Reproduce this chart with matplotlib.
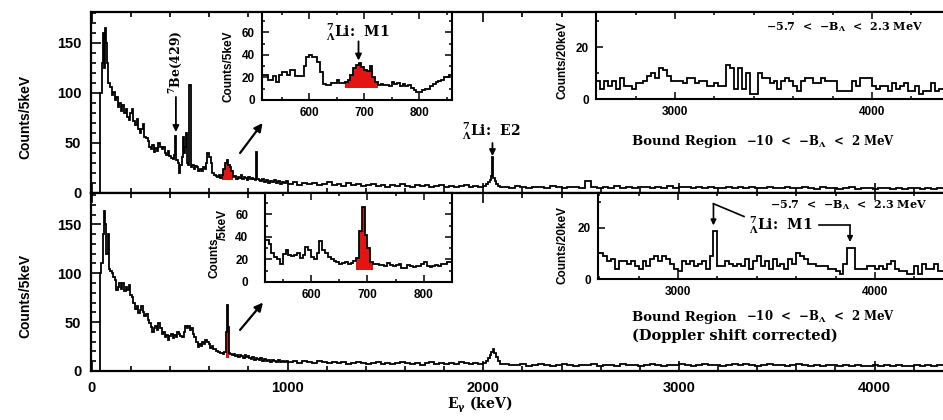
import numpy as np
import matplotlib
matplotlib.use("Agg")
import matplotlib.pyplot as plt
from matplotlib.ticker import MultipleLocator

# ---------------- data ----------------
# main spectra, low-energy part (bin left edges in keV, counts per 5 keV)
top_low_E = [35, 40, 50, 58, 62, 66, 72, 78, 84, 92, 100, 108, 116, 124, 132, 140, 148, 156, 164, 172,
             180, 188, 196, 204, 212, 220, 228, 236, 244, 252, 260, 268, 276, 284, 292, 300, 308, 316,
             324, 332, 340, 348, 356, 364, 372, 380, 388, 396, 404, 412, 420, 425, 432, 440, 444, 450,
             460, 465, 470, 476, 482, 486, 490, 498, 504, 512, 520, 528, 536, 544, 552, 560, 568, 576,
             584, 590, 600, 608, 616, 624, 632, 640, 648, 656, 664, 672, 680, 688, 696, 704, 712, 720,
             728, 736, 744, 752, 760, 768, 776, 784, 792, 800, 808, 816, 824, 832, 840, 846, 852, 860,
             870, 880, 890, 900, 910, 920, 930, 940, 950, 960, 970, 980, 990]
top_low_cts = [0, 100, 130, 160, 125, 165, 150, 130, 110, 106, 98, 101, 93, 96, 86, 90, 82, 88, 80, 84,
               76, 73, 80, 84, 72, 68, 74, 64, 60, 64, 69, 56, 55, 52, 46, 44, 48, 41, 45, 42, 50, 46,
               44, 46, 40, 38, 42, 37, 35, 34, 38, 57, 33, 30, 20, 28, 36, 56, 40, 46, 60, 30, 28, 108,
               26, 28, 24, 27, 26, 22, 24, 22, 26, 24, 30, 40, 36, 30, 20, 18, 17, 16, 18, 15, 18, 24,
               30, 33, 28, 26, 22, 16, 17, 14, 16, 15, 18, 14, 16, 15, 13, 16, 14, 15, 14, 13, 41, 14,
               13, 12, 14, 11, 13, 10, 12, 11, 13, 10, 12, 9, 11, 10, 12]
bot_low_E = [35, 40, 48, 56, 62, 68, 74, 80, 86, 94, 100, 108, 116, 124, 132, 140, 148, 156, 164, 172,
             180, 188, 196, 204, 212, 220, 228, 236, 244, 252, 260, 268, 276, 284, 292, 300, 308, 316,
             324, 332, 340, 348, 356, 364, 372, 380, 388, 396, 404, 412, 420, 428, 436, 444, 452, 460,
             468, 476, 484, 492, 500, 508, 516, 524, 532, 540, 548, 556, 564, 572, 580, 588, 596, 604,
             612, 620, 628, 636, 644, 652, 660, 668, 676, 684, 688, 694, 700, 708, 716, 724, 732, 740,
             748, 756, 764, 772, 780, 788, 796, 804, 812, 820, 828, 836, 844, 852, 860, 870, 880, 890,
             900, 910, 920, 930, 940, 950, 960, 970, 980, 990]
bot_low_cts = [0, 100, 110, 140, 164, 150, 120, 140, 104, 102, 100, 96, 93, 83, 86, 90, 84, 90, 82, 86,
               83, 88, 78, 76, 70, 63, 66, 59, 62, 66, 60, 56, 58, 52, 49, 45, 40, 44, 46, 42, 49, 44,
               38, 40, 35, 37, 32, 36, 38, 34, 37, 35, 40, 38, 36, 35, 40, 46, 44, 46, 42, 44, 38, 35,
               30, 25, 28, 26, 30, 28, 32, 30, 28, 24, 26, 22, 22, 20, 19, 18, 18, 17, 19, 40, 67, 45,
               18, 17, 16, 17, 15, 16, 14, 16, 15, 13, 16, 14, 15, 13, 12, 14, 11, 13, 12, 11, 13, 10,
               12, 10, 11, 9, 11, 10, 9, 11, 9, 10, 9, 10]
# 1000-2000 keV, 25 keV steps
top_mid_cts = [9, 11, 8, 10, 9, 10, 8, 9, 11, 8, 9, 7, 10, 8, 9, 7, 8, 9, 7, 8,
               6, 8, 7, 9, 7, 6, 8, 7, 8, 6, 7, 8, 6, 7, 6, 7, 8, 6, 7, 6]
bot_mid_cts = [9, 10, 8, 10, 9, 8, 10, 9, 8, 9, 8, 9, 7, 8, 9, 8, 7, 8, 9, 7,
               8, 7, 8, 9, 8, 7, 8, 6, 8, 9, 7, 8, 7, 8, 7, 9, 8, 7, 8, 7]
# E2 line region
top_e2_E = [2000, 2015, 2025, 2035, 2042, 2046, 2052, 2058, 2066, 2076, 2088]
top_e2_cts = [7, 9, 11, 13, 17, 36, 15, 12, 9, 7, 6]
bot_e2_E = [2000, 2012, 2022, 2032, 2040, 2048, 2056, 2064, 2074, 2086]
bot_e2_cts = [8, 10, 13, 16, 19, 22, 18, 14, 10, 7]
# 2100-4350 keV, 30 keV steps
top_high_cts = [6, 5, 7, 6, 5, 6, 6, 5, 7, 6, 5, 6, 6, 5, 12, 6, 5, 6, 5, 7, 5, 6, 5, 6, 6,
                5, 6, 5, 7, 5, 6, 6, 5, 6, 5, 6, 5, 5, 6, 5, 6, 5, 6, 5, 5, 6, 5, 5, 6, 5,
                5, 6, 5, 4, 6, 5, 5, 4, 5, 6, 4, 5, 5, 4, 5, 5, 4, 5, 4, 5, 5, 4, 5, 4, 5]
bot_high_cts = [7, 6, 6, 7, 5, 6, 7, 6, 5, 6, 7, 6, 5, 6, 6, 7, 5, 6, 6, 5, 7, 6, 6, 5, 6,
                7, 6, 5, 6, 6, 7, 6, 5, 6, 7, 6, 6, 5, 6, 7, 6, 7, 6, 5, 6, 7, 6, 6, 5, 6,
                7, 6, 5, 6, 5, 6, 6, 5, 6, 5, 6, 5, 5, 6, 5, 6, 5, 6, 5, 5, 6, 5, 6, 5, 6]

# insets around 691 keV (5 keV bins)
inset_top_cts = [22, 22, 18, 18, 21, 16, 22, 25, 25, 22, 27, 27, 21, 21, 21, 30, 38, 40, 38, 38,
                 34, 25, 14, 13, 13, 15, 15, 18, 15, 15, 16, 18, 22, 28, 31, 33, 29, 27, 26, 30,
                 20, 16, 13, 14, 13, 13, 12, 16, 14, 15, 12, 14, 12, 13, 11, 9, 7, 7, 9, 10,
                 10, 12, 14, 16, 17, 18, 20, 20, 22]
inset_bot_cts = [37, 34, 26, 22, 20, 16, 25, 28, 24, 23, 24, 26, 21, 24, 31, 28, 22, 20, 26, 36,
                 28, 26, 22, 20, 19, 18, 16, 17, 18, 16, 17, 19, 21, 45, 67, 42, 30, 18, 16, 16,
                 15, 15, 14, 17, 15, 14, 15, 16, 12, 12, 15, 14, 13, 14, 14, 16, 18, 14, 13, 14,
                 15, 14, 16, 16, 18, 18]
# insets 2600-4360 keV (20 keV bins)
hi_top_cts = [7, 4, 7, 5, 7, 4, 8, 5, 5, 4, 6, 6, 7, 9, 10, 8, 12, 11, 9, 7,
              7, 7, 6, 8, 8, 6, 7, 7, 5, 5, 6, 5, 5, 13, 12, 4, 12, 4, 10, 2,
              2, 10, 8, 8, 6, 7, 4, 7, 8, 7, 5, 3, 7, 8, 8, 6, 6, 8, 7, 7,
              7, 3, 3, 3, 3, 7, 5, 8, 8, 8, 5, 4, 5, 5, 3, 6, 4, 5, 6, 3,
              3, 5, 2, 3, 3, 6, 3, 4]
hi_bot_cts = [10, 9, 7, 8, 4, 7, 7, 6, 7, 5, 4, 7, 5, 8, 9, 7, 9, 8, 6, 4,
              3, 7, 6, 7, 5, 6, 7, 4, 9, 19, 5, 5, 7, 6, 5, 6, 5, 8, 4, 7,
              9, 5, 7, 4, 8, 5, 6, 4, 8, 6, 10, 9, 8, 6, 6, 5, 5, 5, 4, 4,
              3, 2, 6, 12, 12, 4, 4, 4, 5, 5, 4, 5, 4, 6, 7, 4, 3, 3, 2, 2,
              5, 2, 6, 4, 4, 6, 3, 3]

# ---------------- style ----------------
plt.rcParams['font.family'] = ['Liberation Sans', 'DejaVu Sans']
plt.rcParams['font.weight'] = 'bold'
plt.rcParams['axes.labelweight'] = 'bold'
plt.rcParams['mathtext.fontset'] = 'custom'
plt.rcParams['mathtext.rm'] = 'DejaVu Serif:bold'
plt.rcParams['mathtext.it'] = 'DejaVu Serif:italic:bold'
plt.rcParams['mathtext.bf'] = 'DejaVu Serif:bold'
plt.rcParams['mathtext.default'] = 'rm'
SERIF = ['DejaVu Serif']
RED = '#e31414'

W, H = 943, 420
fig = plt.figure(figsize=(W / 100, H / 100), dpi=100)


def rect(x0, y0, x1, y1):
    return [x0 / W, 1 - y1 / H, (x1 - x0) / W, (y1 - y0) / H]


def ftext(x, y, s, **kw):
    kw.setdefault('family', SERIF)
    kw.setdefault('weight', 'bold')
    fig.text(x / W, 1 - y / H, s, **kw)


def build(lowE, lowC, mid, e2E, e2C, high):
    edges, vals = [], []
    for e, c in zip(lowE, lowC):
        edges.append(e); vals.append(c)
    for i, c in enumerate(mid):
        edges.append(1000 + 25 * i); vals.append(c)
    for e, c in zip(e2E, e2C):
        edges.append(e); vals.append(c)
    for i, c in enumerate(high):
        edges.append(2100 + 30 * i); vals.append(c)
    edges.append(edges[-1] + 30)
    return np.array(edges, float), np.array(vals, float)


def red_fill(ax, edges, vals, lo, hi, base):
    m = (edges[:-1] >= lo) & (edges[:-1] < hi)
    idx = np.where(m)[0]
    if len(idx) == 0:
        return
    e = edges[idx[0]:idx[-1] + 2]
    v = np.maximum(vals[idx], base)
    ax.stairs(v, e, baseline=base, fill=True, color=RED, zorder=3, lw=0)


def style_main(ax, ylim):
    ax.set_xlim(-5, 4350)
    ax.set_ylim(*ylim)
    ax.spines['right'].set_visible(False)
    for s in ax.spines.values():
        s.set_linewidth(1.6)
    ax.xaxis.set_major_locator(MultipleLocator(1000))
    ax.xaxis.set_minor_locator(MultipleLocator(200))
    ax.yaxis.set_major_locator(MultipleLocator(50))
    ax.yaxis.set_minor_locator(MultipleLocator(10))
    ax.tick_params(which='both', direction='in', top=True, right=False, width=1.2,
                   labelsize=10.5, pad=7)
    ax.tick_params(which='major', length=7)
    ax.tick_params(which='minor', length=3.5)


def style_inset(ax, xlim, ylim, xmaj, xmin, ymaj, ymin, right=True, ypad=5):
    ax.set_xlim(*xlim)
    ax.set_ylim(*ylim)
    ax.set_facecolor('white')
    for s in ax.spines.values():
        s.set_linewidth(1.5)
    if not right:
        ax.spines['right'].set_visible(False)
    ax.xaxis.set_major_locator(MultipleLocator(xmaj))
    ax.xaxis.set_minor_locator(MultipleLocator(xmin))
    ax.yaxis.set_major_locator(MultipleLocator(ymaj))
    ax.yaxis.set_minor_locator(MultipleLocator(ymin))
    ax.tick_params(which='both', direction='in', top=True, right=right, width=1.1,
                   labelsize=8.5, pad=5)
    ax.tick_params(axis='y', pad=ypad)
    ax.tick_params(which='major', length=5)
    ax.tick_params(which='minor', length=2.5)


# ---------------- main panels ----------------
ax_top = fig.add_axes(rect(91, 12, 943, 193))
ax_bot = fig.add_axes(rect(91, 193, 943, 371))

tE, tV = build(top_low_E, top_low_cts, top_mid_cts, top_e2_E, top_e2_cts, top_high_cts)
bE, bV = build(bot_low_E, bot_low_cts, bot_mid_cts, bot_e2_E, bot_e2_cts, bot_high_cts)

red_fill(ax_top, tE, tV, 664, 720, 13)
red_fill(ax_bot, bE, bV, 684, 700, 13)
ax_top.stairs(tV, tE, baseline=None, color='k', lw=1.3, zorder=4)
ax_bot.stairs(bV, bE, baseline=None, color='k', lw=1.3, zorder=4)

style_main(ax_top, (0, 181))
style_main(ax_bot, (0, 182))
ax_top.tick_params(labelbottom=False)

ftext(25, 117, 'Counts/5keV', rotation=90, ha='center', va='center', fontsize=10,
      family=['Liberation Sans'])
ftext(25, 296, 'Counts/5keV', rotation=90, ha='center', va='center', fontsize=10,
      family=['Liberation Sans'])
ftext(480, 405, r'E$_\gamma$ (keV)', ha='center', va='center', fontsize=10)

# annotations on main spectra
ax_top.text(429, 99, r'$^{7}$Be(429)', rotation=90, ha='center', va='bottom',
            fontsize=9, family=SERIF, weight='bold')
ax_top.annotate('', xy=(429, 61), xytext=(429, 96),
                arrowprops=dict(arrowstyle='-|>', color='k', lw=1.3, mutation_scale=9,
                                shrinkA=0, shrinkB=0))
ax_top.text(2040, 62, r'$^{7}_{\Lambda}$Li:  E2', ha='center', va='center',
            fontsize=10, family=SERIF, weight='bold')
ax_top.annotate('', xy=(2047, 37), xytext=(2047, 50),
                arrowprops=dict(arrowstyle='-|>', color='k', lw=1.3, mutation_scale=9,
                                shrinkA=0, shrinkB=0))
ax_top.annotate('', xy=(872, 70), xytext=(757, 40), annotation_clip=False,
                arrowprops=dict(arrowstyle='-|>', color='k', lw=1.6, mutation_scale=12,
                                shrinkA=0, shrinkB=0))
ax_bot.annotate('', xy=(874, 70), xytext=(757, 42), annotation_clip=False,
                arrowprops=dict(arrowstyle='-|>', color='k', lw=1.6, mutation_scale=12,
                                shrinkA=0, shrinkB=0))

# ---------------- insets near 691 keV ----------------
in_tl = fig.add_axes(rect(262, 12, 452, 100))
e = np.arange(len(inset_top_cts) + 1) * 5 + 515
v = np.array(inset_top_cts, float)
red_fill(in_tl, e, v, 665, 725, 11)
in_tl.stairs(v, e, baseline=None, color='k', lw=1.3, zorder=4)
style_inset(in_tl, (514.5, 860), (0, 78), 100, 50, 20, 10)
in_tl.text(688, 60, r'$^{7}_{\Lambda}$Li:  M1', ha='center', va='center', fontsize=10,
           family=SERIF, weight='bold')
in_tl.annotate('', xy=(690, 35), xytext=(690, 52),
               arrowprops=dict(arrowstyle='-|>', color='k', lw=1.3, mutation_scale=9,
                               shrinkA=0, shrinkB=0))
ftext(229, 66, 'Counts/5keV', rotation=90, ha='center', va='center', fontsize=8.5,
      family=['Liberation Sans'])

in_bl = fig.add_axes(rect(265, 193, 452, 282))
e = np.arange(len(inset_bot_cts) + 1) * 5 + 520
v = np.array(inset_bot_cts, float)
red_fill(in_bl, e, v, 680, 710, 11)
in_bl.stairs(v, e, baseline=None, color='k', lw=1.3, zorder=4)
style_inset(in_bl, (518.6, 849.6), (0, 79), 100, 50, 20, 10, ypad=12)
ftext(214, 258, 'Counts', rotation=90, ha='center', va='center', fontsize=8.5,
      family=['Liberation Sans'])
ftext(223, 224, '/5keV', rotation=90, ha='center', va='center', fontsize=8.5,
      family=['Liberation Sans'])

# ---------------- insets 2600-4360 keV ----------------
in_tr = fig.add_axes(rect(596, 12, 943, 99))
e = np.arange(len(hi_top_cts) + 1) * 20 + 2600
in_tr.stairs(np.array(hi_top_cts, float), e, baseline=None, color='k', lw=1.3)
style_inset(in_tr, (2599, 4360), (0, 33.5), 1000, 200, 20, 10, right=False)
ftext(563, 60, 'Counts/20keV', rotation=90, ha='center', va='center', fontsize=8.5,
      family=['Liberation Sans'])

in_br = fig.add_axes(rect(598, 193, 943, 279))
e = np.arange(len(hi_bot_cts) + 1) * 20 + 2600
in_br.stairs(np.array(hi_bot_cts, float), e, baseline=None, color='k', lw=1.3)
style_inset(in_br, (2594, 4345), (0, 33.7), 1000, 200, 20, 10, right=False)
ftext(563, 245, 'Counts/20keV', rotation=90, ha='center', va='center', fontsize=8.5,
      family=['Liberation Sans'])

# M1 labels in the lower right inset
in_br.text(3520, 21, r'$^{7}_{\Lambda}$Li:  M1', ha='center', va='center', fontsize=10,
           family=SERIF, weight='bold')
in_br.plot([3335, 3180], [24.5, 29.5], color='k', lw=1.2, clip_on=False)
in_br.annotate('', xy=(3180, 21), xytext=(3180, 29.5), annotation_clip=False,
               arrowprops=dict(arrowstyle='-|>', color='k', lw=1.2, mutation_scale=8,
                               shrinkA=0, shrinkB=0))
in_br.plot([3715, 3873], [21, 21], color='k', lw=1.2)
in_br.annotate('', xy=(3873, 14.5), xytext=(3873, 21),
               arrowprops=dict(arrowstyle='-|>', color='k', lw=1.2, mutation_scale=8,
                               shrinkA=0, shrinkB=0))

# region texts
ftext(766, 27, r'$-$5.7  <  $-$B$_\Lambda$  <  2.3 MeV', ha='left', va='center', fontsize=8)
ftext(632, 142, 'Bound Region', ha='left', va='center', fontsize=9.5)
ftext(746, 142, r'$-$10  <  $-$B$_\Lambda$  <  2 MeV', ha='left', va='center', fontsize=8.5)
ftext(770, 205, r'$-$5.7  <  $-$B$_\Lambda$  <  2.3 MeV', ha='left', va='center', fontsize=8)
ftext(632, 317, 'Bound Region', ha='left', va='center', fontsize=9.5)
ftext(746, 317, r'$-$10  <  $-$B$_\Lambda$  <  2 MeV', ha='left', va='center', fontsize=8.5)
ftext(632, 336, '(Doppler shift corrected)', ha='left', va='center', fontsize=10.5)

fig.savefig('out.png', dpi=100)
